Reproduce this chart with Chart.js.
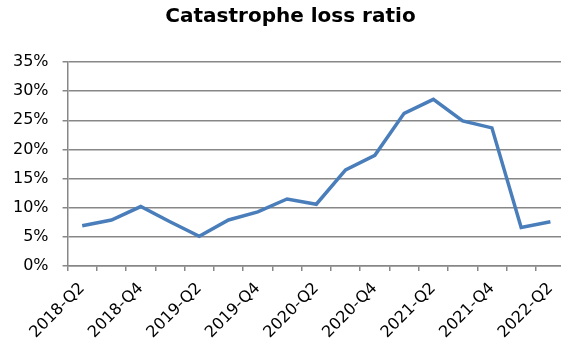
<!DOCTYPE html>
<html>
<head>
<meta charset="utf-8">
<script src="https://cdn.jsdelivr.net/npm/chart.js@4.4.0/dist/chart.umd.min.js"></script>
<style>
  html, body { margin: 0; padding: 0; background: #fff; overflow: hidden; }
  #wrap { width: 561px; height: 347px; overflow: hidden; }
</style>
</head>
<body>
<div id="wrap"><canvas id="c" width="572" height="347"></canvas></div>
<script>
const categories = ["2018-Q2","2018-Q3","2018-Q4","2019-Q1","2019-Q2","2019-Q3","2019-Q4","2020-Q1","2020-Q2","2020-Q3","2020-Q4","2021-Q1","2021-Q2","2021-Q3","2021-Q4","2022-Q1","2022-Q2"];
const lossRatio = [6.9, 7.9, 10.2, 7.6, 5.1, 7.9, 9.3, 11.5, 10.6, 16.5, 19.0, 26.2, 28.6, 24.9, 23.7, 6.6, 7.6];
const yTicks = [0, 5, 10, 15, 20, 25, 30, 35];

const FONT = "'DejaVu Sans', Verdana, sans-serif";
const GRID = '#878787';

new Chart(document.getElementById('c'), {
  type: 'line',
  data: {
    labels: categories,
    datasets: [{
      label: 'Catastrophe loss ratio',
      data: lossRatio,
      borderColor: '#4a7ebb',
      borderWidth: 3.5,
      pointRadius: 0,
      tension: 0,
      fill: false
    }]
  },
  options: {
    responsive: false,
    animation: false,
    layout: { padding: { left: -1, right: -10, top: 0, bottom: -3 } },
    plugins: {
      legend: { display: false },
      tooltip: { enabled: false },
      title: {
        display: true,
        text: 'Catastrophe loss ratio',
        color: '#000',
        font: { family: FONT, size: 20, weight: 'bold' },
        padding: { top: 5, bottom: 33 }
      }
    },
    scales: {
      x: {
        offset: true,
        grid: { offset: true, drawOnChartArea: false, drawTicks: true, tickLength: 5, color: GRID, lineWidth: 1.5 },
        border: { color: GRID, width: 1.5 },
        ticks: {
          autoSkip: false,
          minRotation: 45,
          maxRotation: 45,
          color: '#000',
          padding: 8,
          font: { family: FONT, size: 16 },
          callback: function(v, i) { return i % 2 === 0 ? categories[i] : ''; }
        }
      },
      y: {
        min: 0,
        max: 35,
        afterBuildTicks: function(axis) { axis.ticks = yTicks.map(v => ({ value: v })); },
        grid: { color: GRID, lineWidth: 1.5, tickLength: 5 },
        border: { color: GRID, width: 1.5 },
        ticks: {
          color: '#000',
          padding: 14,
          font: { family: FONT, size: 16 },
          callback: function(v) { return v + '%'; }
        }
      }
    }
  }
});
</script>
</body>
</html>
